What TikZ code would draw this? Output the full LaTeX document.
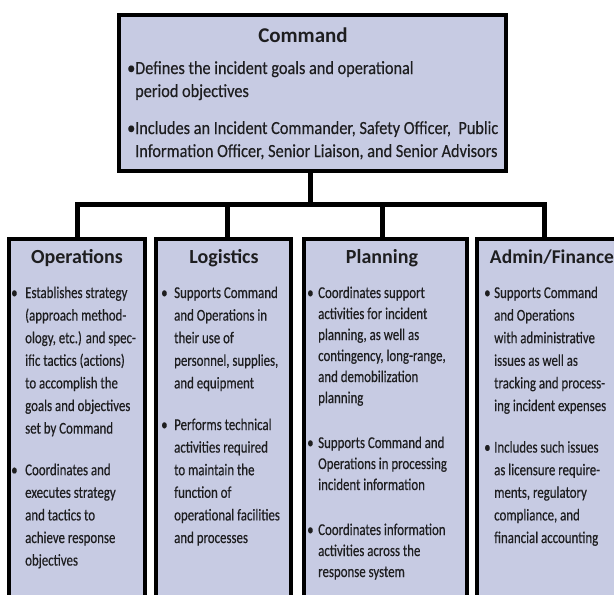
\documentclass[tikz,border=0pt]{standalone}
\usepackage{fontspec}
\setmainfont{Carlito}
\newfontfamily\narrowfont[FakeStretch=0.78,FakeBold=0.4]{Carlito}
\newfontfamily\cmdfont[FakeStretch=0.88,FakeBold=0.4]{Carlito}
\definecolor{boxfill}{RGB}{199,203,227}
\definecolor{ink}{RGB}{30,30,32}

\begin{document}
\begin{tikzpicture}[x=1pt,y=-1pt,
  box/.style={draw=black, fill=boxfill, line width=3.5pt, rectangle, inner sep=0pt},
  conn/.style={draw=black, line width=5pt},
  title/.style={font=\bfseries\fontsize{20}{24}\selectfont, text=ink, inner sep=0pt, anchor=base},
  txt/.style={font=\narrowfont\fontsize{16.5}{20}\selectfont, text=ink, inner sep=0pt, anchor=base west},
  ctxt/.style={font=\cmdfont\fontsize{18.5}{22}\selectfont, text=ink, inner sep=0pt, anchor=base west},
]
\useasboundingbox (0,0) rectangle (614,595);
\begin{scope}
\clip (0,0) rectangle (614,595);

% boxes
\node[box, line width=4.5pt, minimum width=387pt, minimum height=156pt] (cmd) at (312.5,93) {};
\node[box, minimum width=136pt, minimum height=381pt] (ops) at (77,429.5) {};
\node[box, minimum width=135pt, minimum height=381pt] (log) at (223.5,429.5) {};
\node[box, minimum width=163pt, minimum height=381pt] (plan) at (385.5,429.5) {};
\node[box, minimum width=141pt, minimum height=381pt] (fin) at (547.5,429.5) {};

% connectors
\coordinate (bus) at (310,204);
\coordinate (logtop) at ([xshift=3.5pt]log.north);
\coordinate (plantop) at ([xshift=-3.5pt]plan.north);
\coordinate (fintop) at ([xshift=-3pt]fin.north);
\draw[conn] (bus) -- (bus |- cmd.south);
\draw[conn] (ops.north) |- (bus) -| (fintop);
\draw[conn] (logtop) -- (logtop |- bus);
\draw[conn] (plantop) -- (plantop |- bus);

% Command
\node[title, font=\bfseries\fontsize{21}{24}\selectfont] (cmdT) at (303,42) {Command};
\node[ctxt] (cmdP1) at (127,74) {•};
\node[ctxt] (cmdL1) at (135,74) {Defines the incident goals and operational};
\node[ctxt] (cmdL2) at (135,97) {period objectives};
\node[ctxt] (cmdP2) at (127,134) {•};
\node[ctxt] (cmdL3) at (135,134) {Includes an Incident Commander, Safety Officer,\ \ Public};
\node[ctxt] (cmdL4) at (135,157) {Information Officer, Senior Liaison, and Senior Advisors};

% Operations
\node[title] (opsT) at (77,263) {Operations};
\node[txt] (opsP1) at (11,298) {•};
\foreach \l [count=\i from 0] in {{Establishes strategy},{(approach method-},{ology, etc.) and spec-},{ific tactics (actions)},{to accomplish the},{goals and objectives},{set by Command}}
  \node[txt] (ops-a\i) at (25,{298+\i*22.6}) {\l};
\node[txt] (opsP2) at (11,475.2) {•};
\foreach \l [count=\i from 0] in {{Coordinates and},{executes strategy},{and tactics to},{achieve response},{objectives}}
  \node[txt] (ops-b\i) at (25,{475.2+\i*22.6}) {\l};

% Logistics
\node[title] (logT) at (224,263) {Logistics};
\node[txt] (logP1) at (161,298) {•};
\foreach \l [count=\i from 0] in {{Supports Command},{and Operations in},{their use of},{personnel, supplies,},{and equipment}}
  \node[txt] (log-a\i) at (174,{298+\i*22.6}) {\l};
\node[txt] (logP2) at (161,430) {•};
\foreach \l [count=\i from 0] in {{Performs technical},{activities required},{to maintain the},{function of},{operational facilities},{and processes}}
  \node[txt] (log-b\i) at (174,{430+\i*22.6}) {\l};

% Planning
\node[title] (planT) at (382,263) {Planning};
\node[txt] (planP1) at (307,298) {•};
\foreach \l [count=\i from 0] in {{Coordinates support},{activities for incident},{planning, as well as},{contingency, long-range,},{and demobilization},{planning}}
  \node[txt] (plan-a\i) at (318,{298+\i*21}) {\l};
\node[txt] (planP2) at (307,448) {•};
\foreach \l [count=\i from 0] in {{Supports Command and},{Operations in processing},{incident information}}
  \node[txt] (plan-b\i) at (318,{448+\i*21}) {\l};
\node[txt] (planP3) at (307,535) {•};
\foreach \l [count=\i from 0] in {{Coordinates information},{activities across the},{response system}}
  \node[txt] (plan-c\i) at (318,{535+\i*21}) {\l};

% Admin/Finance
\node[title, font=\bfseries\fontsize{19.5}{24}\selectfont] (finT) at (552,263) {Admin/Finance};
\node[txt] (finP1) at (484,298) {•};
\foreach \l [count=\i from 0] in {{Supports Command},{and Operations},{with administrative},{issues as well as},{tracking and process-},{ing incident expenses}}
  \node[txt] (fin-a\i) at (494,{298+\i*22.6}) {\l};
\node[txt] (finP2) at (484,452.6) {•};
\foreach \l [count=\i from 0] in {{Includes such issues},{as licensure require-},{ments, regulatory},{compliance, and},{financial accounting}}
  \node[txt] (fin-b\i) at (494,{452.6+\i*22.6}) {\l};
\end{scope}
\end{tikzpicture}
\end{document}
